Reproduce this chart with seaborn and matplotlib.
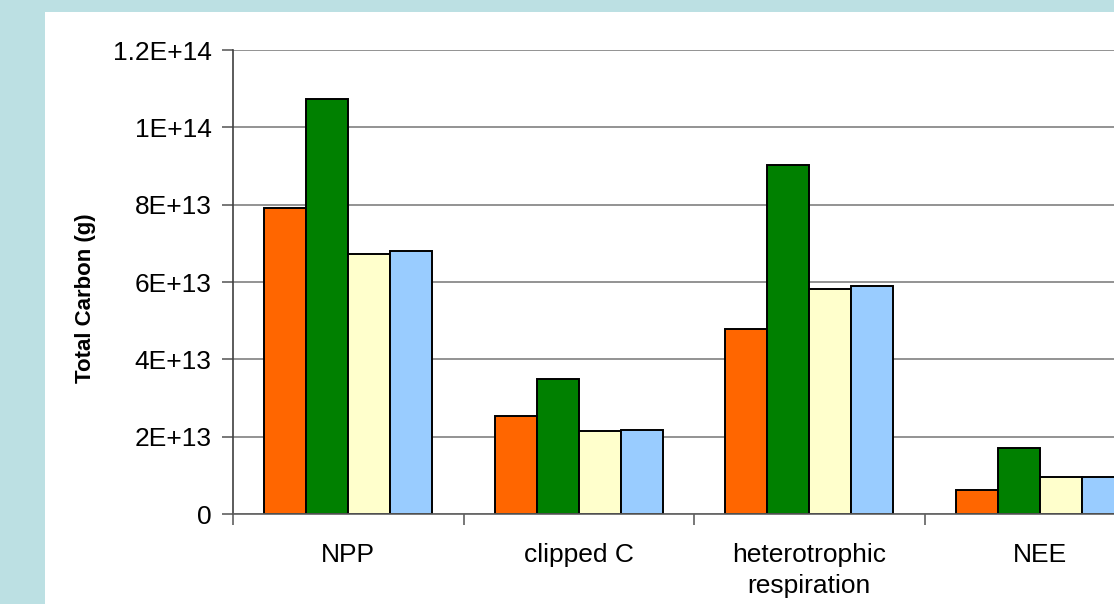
import matplotlib
matplotlib.use('Agg')
import matplotlib.pyplot as plt
from matplotlib.patches import Rectangle
from matplotlib.ticker import FixedLocator
import seaborn as sns
import pandas as pd

# Chart data
categories = ["NPP", "clipped C", "heterotrophic\nrespiration", "NEE"]
series_names = ["Series 1", "Series 2", "Series 3", "Series 4"]
series_1 = [7.91e13, 2.53e13, 4.78e13, 0.62e13]
series_2 = [10.73e13, 3.49e13, 9.03e13, 1.70e13]
series_3 = [6.73e13, 2.15e13, 5.81e13, 0.95e13]
series_4 = [6.81e13, 2.17e13, 5.90e13, 0.96e13]
y_ticks = [0, 2e13, 4e13, 6e13, 8e13, 1e14, 1.2e14]
y_tick_labels = ["0", "2E+13", "4E+13", "6E+13", "8E+13", "1E+14", "1.2E+14"]
colors = ["#FF6600", "#008000", "#FFFFCC", "#99CCFF"]

rows = []
for name, vals in zip(series_names, [series_1, series_2, series_3, series_4]):
    for cat, v in zip(categories, vals):
        rows.append({"category": cat, "series": name, "value": v})
df = pd.DataFrame(rows)

sns.set_style("white")
plt.rcParams['font.family'] = ['Liberation Sans', 'DejaVu Sans']
plt.rcParams['text.color'] = 'black'
plt.rcParams['axes.labelcolor'] = 'black'
plt.rcParams['xtick.color'] = 'black'
plt.rcParams['ytick.color'] = 'black'

fig = plt.figure(figsize=(11.14, 6.04), dpi=100)
fig.patch.set_facecolor("#BCE0E3")
# white chart panel, kept behind the axes
fig.patches.append(Rectangle((45 / 1114, 0), 1.0, 1 - 12 / 604, transform=fig.transFigure,
                             facecolor="white", edgecolor="none", zorder=-10))

ax = fig.add_axes([233 / 1114, 1 - 514 / 604, 922 / 1114, 464 / 604])
ax.set_facecolor("none")

sns.barplot(data=df, x="category", y="value", hue="series", order=categories,
            hue_order=series_names, palette=colors, saturation=1, width=0.73,
            edgecolor="black", linewidth=1.4, legend=False, ax=ax)

ax.set_ylim(0, 1.2e14)
ax.set_xlim(-0.5, 3.5)
ax.set_yticks(y_ticks)
ax.set_yticklabels(y_tick_labels)
ax.yaxis.grid(True, color="#808080", linewidth=1.2)
ax.set_axisbelow(True)

for side in ["top", "right"]:
    ax.spines[side].set_visible(False)
ax.spines["left"].set_color("#404040")
ax.spines["bottom"].set_color("#606060")
ax.spines["left"].set_linewidth(1.2)
ax.spines["bottom"].set_linewidth(1.2)

ax.tick_params(axis="y", left=True, length=8, width=1.2, color="#606060",
               labelcolor="black", pad=7.5, labelsize=19)
ax.tick_params(axis="x", which="major", bottom=True, length=0, pad=21,
               labelcolor="black", labelsize=19)
ax.xaxis.set_minor_locator(FixedLocator([-0.5, 0.5, 1.5, 2.5, 3.5]))
ax.tick_params(axis="x", which="minor", bottom=True, length=8, width=1.2,
               color="#606060", direction="out")
for lbl in ax.get_xticklabels():
    lbl.set_linespacing(1.35)

ax.set_xlabel("")
ax.set_ylabel("Total Carbon (g)", fontsize=16, fontweight="bold", color="black")
ax.yaxis.set_label_coords(-0.149, 0.466)

fig.savefig("out.png", dpi=100, facecolor=fig.get_facecolor())
